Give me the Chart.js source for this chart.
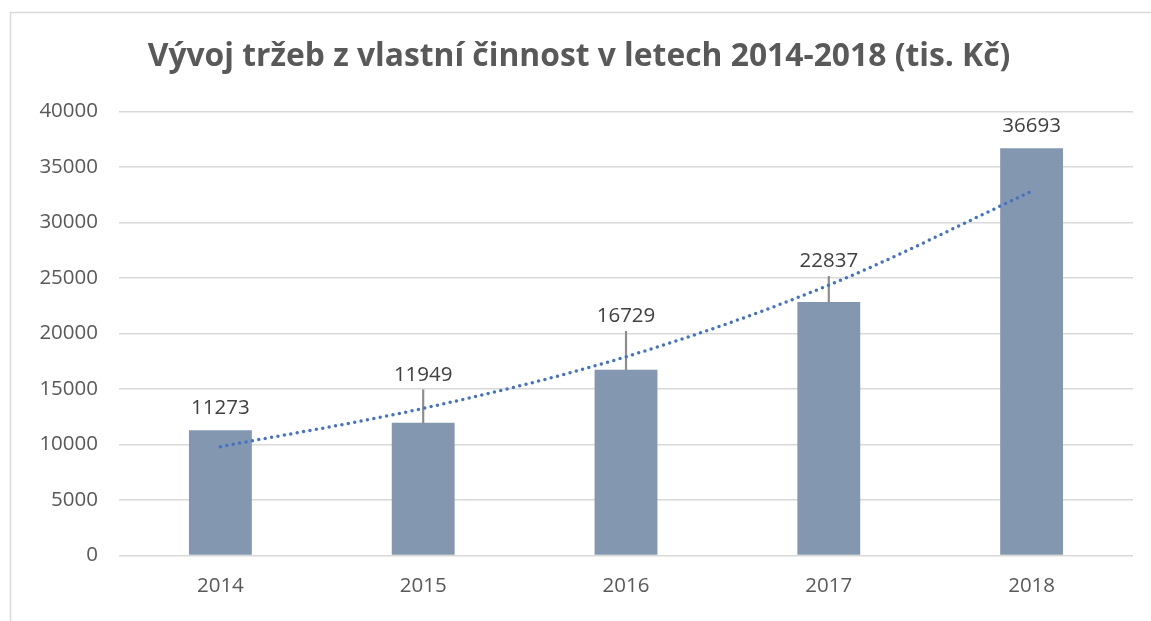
<!DOCTYPE html>
<html>
<head>
<meta charset="utf-8">
<script src="https://cdn.jsdelivr.net/npm/chart.js@4.4.1/dist/chart.umd.min.js"></script>
<style>
  html, body { margin: 0; padding: 0; background: #ffffff; }
  #wrap { position: relative; width: 1151px; height: 621px; }
  canvas { display: block; }
</style>
</head>
<body>
<div id="wrap"><canvas id="c" width="1151" height="621"></canvas></div>
<script>
const categories = ['2014', '2015', '2016', '2017', '2018'];
const revenues = [11273, 11949, 16729, 22837, 36693];
const errorTops = [null, 14930, 20200, 25150, null];
const trendValues = [9800, 13250, 17900, 24350, 32800];
const titleText = 'Vývoj tržeb z vlastní činnost v letech 2014-2018 (tis. Kč)';
const yMin = 0, yMax = 40000, yStep = 5000;

const FONT = "'Open Sans', 'DejaVu Sans', sans-serif";

const errorData = revenues.map((v, i) => errorTops[i] == null ? null : [v, errorTops[i]]);

const framePlugin = {
  id: 'frame',
  beforeDraw(chart) {
    const ctx = chart.ctx;
    ctx.save();
    ctx.fillStyle = '#ffffff';
    ctx.fillRect(0, 0, chart.width, chart.height);
    ctx.strokeStyle = '#d9d9d9';
    ctx.lineWidth = 1.5;
    ctx.beginPath();
    ctx.moveTo(10.5, chart.height);
    ctx.lineTo(10.5, 12.5);
    ctx.lineTo(chart.width, 12.5);
    ctx.stroke();
    // title
    ctx.font = "bold 31.8px " + FONT;
    ctx.fillStyle = '#595959';
    ctx.textAlign = 'center';
    ctx.textBaseline = 'middle';
    ctx.fillText(titleText, 579, 57);
    ctx.restore();
  }
};

const labelPlugin = {
  id: 'valueLabels',
  afterDatasetsDraw(chart) {
    const ctx = chart.ctx;
    const meta = chart.getDatasetMeta(2);
    const y = chart.scales.y;
    ctx.save();
    ctx.font = "20.5px " + FONT;
    ctx.fillStyle = '#404040';
    ctx.textAlign = 'center';
    ctx.textBaseline = 'alphabetic';
    meta.data.forEach((bar, i) => {
      const hasErr = errorTops[i] != null;
      const anchor = y.getPixelForValue(hasErr ? errorTops[i] : revenues[i]);
      const gap = hasErr ? 9 : 16;
      ctx.fillText(String(revenues[i]), bar.x, anchor - gap);
    });
    ctx.restore();
  }
};

new Chart(document.getElementById('c'), {
  type: 'bar',
  data: {
    labels: categories,
    datasets: [
      {
        type: 'line',
        label: 'Trend',
        data: trendValues,
        borderColor: '#4472C4',
        borderWidth: 3.5,
        borderDash: [0, 6.5],
        borderCapStyle: 'round',
        pointRadius: 0,
        tension: 0.4,
        cubicInterpolationMode: 'monotone',
        fill: false,
        order: 0
      },
      {
        type: 'bar',
        label: 'Chyba',
        data: errorData,
        backgroundColor: '#8c8c8c',
        barThickness: 1.5,
        grouped: false,
        order: 1
      },
      {
        type: 'bar',
        label: 'Tržby',
        data: revenues,
        backgroundColor: '#8497B0',
        barPercentage: 0.31,
        categoryPercentage: 1.0,
        grouped: false,
        order: 2
      }
    ]
  },
  options: {
    responsive: false,
    animation: false,
    devicePixelRatio: 1,
    layout: { padding: { left: 0, right: 18, top: 111.5, bottom: 5 } },
    plugins: {
      legend: { display: false },
      tooltip: { enabled: false },
      title: { display: false }
    },
    scales: {
      x: {
        offset: true,
        grid: { display: false, drawTicks: false },
        border: { display: false },
        ticks: { color: '#595959', font: { family: FONT, size: 20.5 }, padding: 18 }
      },
      y: {
        min: yMin,
        max: yMax,
        grid: { color: '#d9d9d9', lineWidth: 1.5, drawTicks: false },
        border: { display: false },
        ticks: {
          stepSize: yStep, color: '#595959', font: { family: FONT, size: 20.5 }, padding: 21,
          callback: (v) => String(v)
        },
        afterFit(scale) { scale.width = 119; }
      }
    }
  },
  plugins: [framePlugin, labelPlugin]
});
</script>
</body>
</html>
